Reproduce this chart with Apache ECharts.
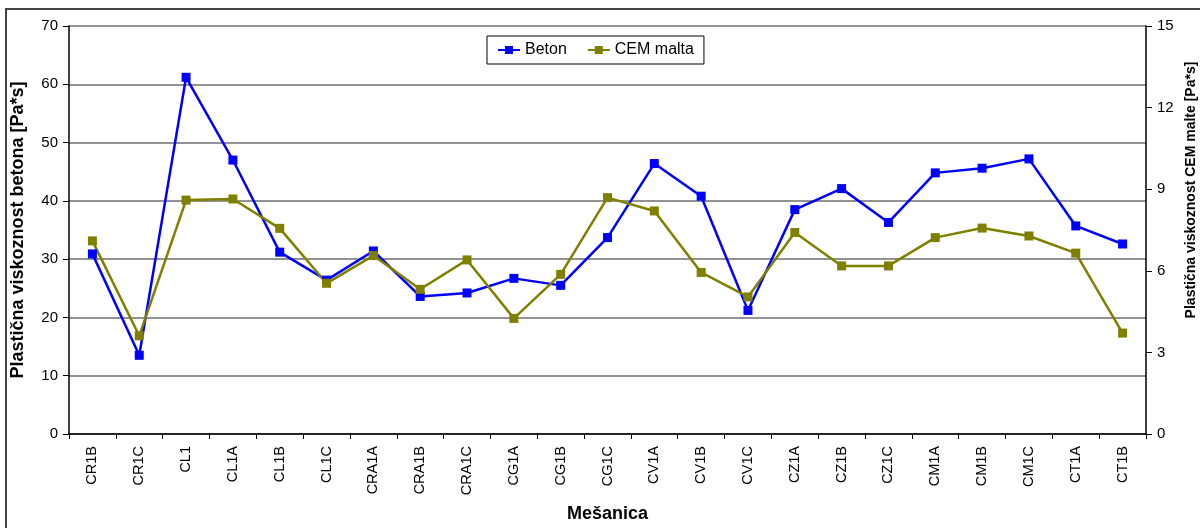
<!DOCTYPE html>
<html>
<head>
  <meta charset="UTF-8">
  <title>Plastična viskoznost</title>
  <script src="https://cdn.jsdelivr.net/npm/echarts@6/dist/echarts.min.js"></script>
  <style>
    html, body { margin: 0; padding: 0; background: #fff; overflow: hidden; }
    #frame { position: absolute; left: 5px; top: 8px; width: 1300px; height: 600px; border: 2px solid #444; }
    #chart { position: absolute; left: 0; top: 0; width: 1200px; height: 528px; }
  </style>
</head>
<body>
  <div id="frame"></div>
  <div id="chart"></div>
  <script>
    // podatki
    var categories = ['CR1B','CR1C','CL1','CL1A','CL1B','CL1C','CRA1A','CRA1B','CRA1C','CG1A','CG1B','CG1C',
                      'CV1A','CV1B','CV1C','CZ1A','CZ1B','CZ1C','CM1A','CM1B','CM1C','CT1A','CT1B'];
    var beton = [30.9, 13.5, 61.2, 47.0, 31.2, 26.4, 31.4, 23.6, 24.2, 26.7, 25.5, 33.7,
                 46.4, 40.8, 21.2, 38.5, 42.1, 36.3, 44.8, 45.6, 47.2, 35.7, 32.6];
    var cemMalta = [7.10, 3.61, 8.60, 8.64, 7.56, 5.54, 6.56, 5.32, 6.40, 4.25, 5.87, 8.69,
                    8.20, 5.94, 5.04, 7.41, 6.18, 6.18, 7.22, 7.57, 7.28, 6.65, 3.71];

    var chart = echarts.init(document.getElementById('chart'));
    var font = 'Liberation Sans, Arial, sans-serif';

    chart.setOption({
      animation: false,
      textStyle: { fontFamily: font },
      grid: { left: 69, right: 54, top: 26, bottom: 94, containLabel: false, outerBoundsMode: 'none' },
      legend: {
        left: 487, top: 36,
        data: ['Beton', 'CEM malta'],
        borderColor: '#000', borderWidth: 1, borderRadius: 0,
        padding: [6, 10], itemGap: 20, itemWidth: 22, itemHeight: 10,
        textStyle: { fontSize: 16, color: '#000', fontFamily: font }
      },
      xAxis: {
        type: 'category', data: categories, boundaryGap: true,
        name: 'Mešanica', nameLocation: 'middle', nameGap: 71,
        nameTextStyle: { fontSize: 18, fontWeight: 'bold', color: '#000', fontFamily: font },
        axisLine: { lineStyle: { color: '#000', width: 1.5 } },
        axisTick: { show: true, alignWithLabel: false, length: 5, lineStyle: { color: '#000' } },
        axisLabel: { rotate: 90, fontSize: 14.5, color: '#000', margin: 12, interval: 0, fontFamily: font },
        splitLine: { show: false }
      },
      yAxis: [{
        type: 'value', min: 0, max: 70, interval: 10, position: 'left',
        name: 'Plastična viskoznost betona [Pa*s]', nameLocation: 'middle', nameGap: 42,
        nameTextStyle: { fontSize: 18, fontWeight: 'bold', color: '#000', fontFamily: font },
        axisLine: { show: true, lineStyle: { color: '#000', width: 1.5 } },
        axisTick: { show: true, length: 6, lineStyle: { color: '#000' } },
        axisLabel: { fontSize: 15, color: '#000', margin: 11, fontFamily: font },
        splitLine: { show: true, lineStyle: { color: '#6e6e6e', width: 1.5 } }
      }, {
        type: 'value', min: 0, max: 15, interval: 3, position: 'right',
        name: 'Plastična viskoznost CEM malte [Pa*s]', nameLocation: 'middle', nameGap: 38,
        nameTextStyle: { fontSize: 14, fontWeight: 'bold', color: '#000', fontFamily: font, padding: [0, 0, 0, 80] },
        axisLine: { show: true, lineStyle: { color: '#000', width: 1.5 } },
        axisTick: { show: true, inside: false, length: 6, lineStyle: { color: '#000' } },
        axisLabel: { fontSize: 15, color: '#000', margin: 11, fontFamily: font },
        splitLine: { show: false }
      }],
      series: [{
        name: 'Beton', type: 'line', yAxisIndex: 0, data: beton,
        symbol: 'rect', symbolSize: 9,
        lineStyle: { color: '#0000ff', width: 2.5 },
        itemStyle: { color: '#0000ff' }
      }, {
        name: 'CEM malta', type: 'line', yAxisIndex: 1, data: cemMalta,
        symbol: 'rect', symbolSize: 9,
        lineStyle: { color: '#808000', width: 2.5 },
        itemStyle: { color: '#808000' }
      }]
    });
  </script>
</body>
</html>
